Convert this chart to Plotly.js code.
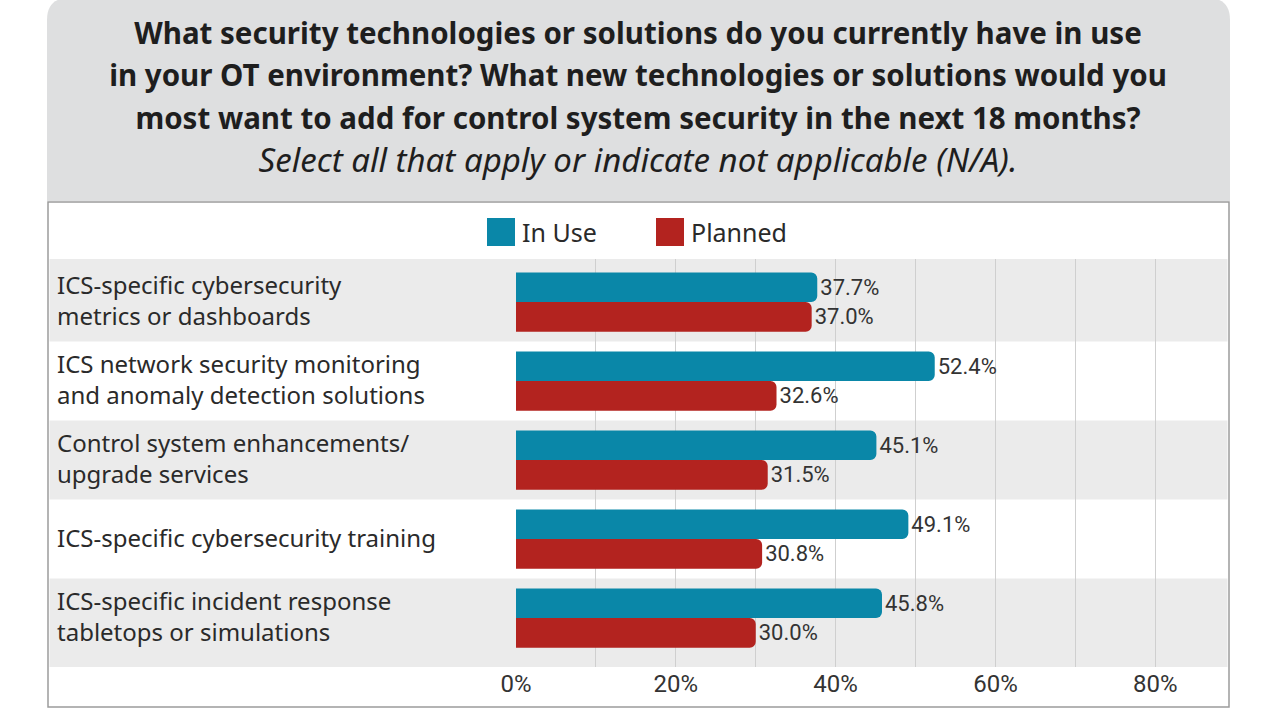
<!DOCTYPE html>
<html>
<head>
<meta charset="utf-8">
<script src="https://cdn.plot.ly/plotly-3.0.1.min.js"></script>
<style>html,body{margin:0;padding:0;background:#fff;}#chart{width:1280px;height:720px;}</style>
</head>
<body>
<div id="chart"></div>
<script>
// ---- data ----
const categories = [
  "ICS-specific cybersecurity<br>metrics or dashboards",
  "ICS network security monitoring<br>and anomaly detection solutions",
  "Control system enhancements/<br>upgrade services",
  "ICS-specific cybersecurity training",
  "ICS-specific incident response<br>tabletops or simulations"
];
const seriesNames = ["In Use", "Planned"];
const inUse = [37.7, 52.4, 45.1, 49.1, 45.8];
const planned = [37.0, 32.6, 31.5, 30.8, 30.0];
const tickValues = [0, 20, 40, 60, 80];
const tickLabels = ["0%", "20%", "40%", "60%", "80%"];
const titleLines = [
  "What security technologies or solutions do you currently have in use",
  "in your OT environment? What new technologies or solutions would you",
  "most want to add for control system security in the next 18 months?"
];
const subtitle = "Select all that apply or indicate not applicable (N/A).";

// ---- styling / layout constants ----
const W = 1280, H = 720;
const L = 48, R = 1228, T = 259, B = 667;
const PW = R - L, PH = B - T;
const px = x => (x - L) / PW;
const py = y => (B - y) / PH;
const BLUE = "#0a87a8", RED = "#b3231f";
const valFont = "Roboto, Liberation Sans, sans-serif";
const sans = "Noto Sans, Open Sans, sans-serif";
const yTop = -0.545, yBot = 4.62;

const traces = [
  {type: "bar", orientation: "h", name: seriesNames[0], y: categories, x: inUse,
   marker: {color: BLUE, cornerradius: 6}, texttemplate: "%{x:.1f}%", textposition: "outside",
   textfont: {family: valFont, size: 22, color: "#333"}, constraintext: "none", cliponaxis: false,
   hoverinfo: "x"},
  {type: "bar", orientation: "h", name: seriesNames[1], y: categories, x: planned,
   marker: {color: RED, cornerradius: 6}, texttemplate: "%{x:.1f}%", textposition: "outside",
   textfont: {family: valFont, size: 22, color: "#333"}, constraintext: "none", cliponaxis: false,
   hoverinfo: "x"}
];

const r = 22;
const rx = r / PW, ry = r / PH;
const bx0 = px(47), bx1 = px(1230), byT = py(-2), byB = py(201);
const titlePath = `M ${bx0} ${byB} L ${bx0} ${byT - ry} Q ${bx0} ${byT} ${bx0 + rx} ${byT} L ${bx1 - rx} ${byT} Q ${bx1} ${byT} ${bx1} ${byT - ry} L ${bx1} ${byB} Z`;

const shapes = [
  {type: "path", xref: "paper", yref: "paper", path: titlePath, fillcolor: "#dedfe0", line: {width: 0}, layer: "below"},
  {type: "rect", xref: "paper", yref: "paper", x0: px(48), x1: px(1229), y0: py(707), y1: py(202),
   fillcolor: "#ffffff", line: {color: "#9c9c9c", width: 1.5}, layer: "below"}
];
[0, 2, 4].forEach(i => {
  shapes.push({type: "rect", xref: "paper", yref: "y", x0: px(49.5), x1: px(1227.5),
    y0: i === 0 ? yTop : i - 0.5, y1: i === 4 ? yBot : i + 0.5,
    fillcolor: "#ebebeb", line: {width: 0}, layer: "below"});
});
// legend swatches
const legendSpec = [
  {x: 487, color: BLUE, name: seriesNames[0]},
  {x: 656, color: RED, name: seriesNames[1]}
];
const annotations = [];
legendSpec.forEach(s => {
  shapes.push({type: "rect", xref: "paper", yref: "paper", x0: px(s.x), x1: px(s.x + 28),
    y0: py(246), y1: py(218), fillcolor: s.color, line: {width: 0}});
  annotations.push({xref: "paper", yref: "paper", x: px(s.x + 33), y: py(232), xanchor: "left", yanchor: "middle",
    text: s.name, showarrow: false, font: {family: sans, size: 25, color: "#2a2a2a"}});
});
categories.forEach((c, i) => {
  annotations.push({xref: "paper", yref: "y", x: px(55), y: i, xanchor: "left", yanchor: "middle",
    align: "left", text: c, showarrow: false, yshift: 2, font: {family: sans, size: 24, color: "#2a2a2a"}});
});

const titleText = titleLines.map(t => `<b><span style="font-size:29.5px">${t}</span></b>`).join("<br>") +
  `<br><i><span style="font-size:33px">${subtitle}</span></i>`;

const layout = {
  width: W, height: H,
  margin: {l: L, r: W - R, t: T, b: H - B, pad: 0},
  paper_bgcolor: "#ffffff", plot_bgcolor: "rgba(0,0,0,0)",
  showlegend: false,
  barmode: "group", bargap: 0.25, bargroupgap: 0,
  title: {text: titleText, xref: "paper", x: 0.5, xanchor: "center", yref: "container", y: 1 - 43.5 / H, yanchor: "middle",
    font: {family: sans, size: 33, color: "#1e1e1e"}},
  xaxis: {domain: [px(516), 1], range: [0, 89.1], tickvals: tickValues, ticktext: tickLabels,
    showgrid: true, gridcolor: "#cfcfcf", gridwidth: 1, zeroline: false, showline: false, ticks: "",
    minor: {dtick: 10, showgrid: true, gridcolor: "#cfcfcf", gridwidth: 1},
    tickfont: {family: valFont, size: 24, color: "#333"}, fixedrange: true},
  yaxis: {type: "category", range: [yBot, yTop], showticklabels: false, showgrid: false, zeroline: false,
    showline: false, ticks: "", fixedrange: true},
  shapes: shapes, annotations: annotations
};

Plotly.newPlot("chart", traces, layout, {displayModeBar: false, staticPlot: true});
</script>
</body>
</html>
